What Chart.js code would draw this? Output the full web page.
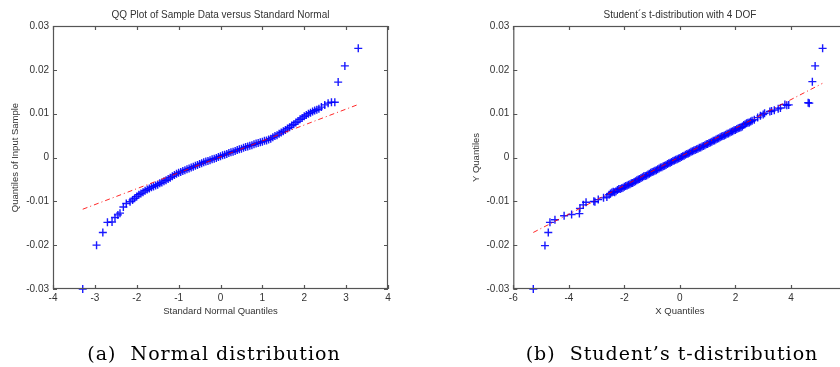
<!DOCTYPE html>
<html>
<head>
<meta charset="utf-8">
<script src="https://cdn.jsdelivr.net/npm/chart.js@4"></script>
<style>
html, body { margin: 0; padding: 0; width: 840px; height: 367px; overflow: hidden; background: #fff; }
#left { position: absolute; left: 0; top: 0; }
#right { position: absolute; left: 420px; top: 0; }
.caption { position: absolute; top: 340px; width: 420px; text-align: center; font-family: "DejaVu Serif", serif; font-size: 19px; letter-spacing: 1px; line-height: 26px; color: #000; white-space: nowrap; }
</style>
</head>
<body>
<canvas id="left" width="420" height="367"></canvas>
<canvas id="right" width="440" height="367"></canvas>
<div class="caption" style="left:4px">(a)&nbsp; Normal distribution</div>
<div class="caption" style="left:462px">(b)&nbsp; Student’s t-distribution</div>
<script>
// tick labels
const yTicks = [-0.03, -0.02, -0.01, 0, 0.01, 0.02, 0.03];
const normXTicks = [-4, -3, -2, -1, 0, 1, 2, 3, 4];
const tXTicks = [-6, -4, -2, 0, 2, 4, 6];

// (a) sample quantiles vs standard normal quantiles
const normX = [
  -3.29, -2.96, -2.81, -2.70, -2.59, -2.52, -2.45, -2.40, -2.32, -2.25, -2.16, -2.10,
  -2.05, -2.00, -1.95, -1.90, -1.85, -1.80, -1.75, -1.70, -1.65, -1.60, -1.55, -1.50,
  -1.45, -1.40, -1.35, -1.30, -1.25, -1.20, -1.15, -1.10, -1.05, -1.00, -0.95, -0.90,
  -0.85, -0.80, -0.75, -0.70, -0.65, -0.60, -0.55, -0.50, -0.45, -0.40, -0.35, -0.30,
  -0.25, -0.20, -0.15, -0.10, -0.05, 0.00, 0.05, 0.10, 0.15, 0.20, 0.25, 0.30,
  0.35, 0.40, 0.45, 0.50, 0.55, 0.60, 0.65, 0.70, 0.75, 0.80, 0.85, 0.90,
  0.95, 1.00, 1.05, 1.10, 1.15, 1.20, 1.25, 1.30, 1.35, 1.40, 1.45, 1.50,
  1.55, 1.60, 1.65, 1.70, 1.75, 1.80, 1.85, 1.90, 1.95, 2.00, 2.05, 2.10,
  2.15, 2.20, 2.25, 2.30, 2.35, 2.41, 2.49, 2.57, 2.65, 2.73, 2.81, 2.97, 3.29
];
const normY = [
  -0.0300, -0.0200, -0.0171, -0.0148, -0.0147, -0.0137, -0.0131, -0.0127, -0.0113, -0.0105, -0.0101, -0.0097,
  -0.0093, -0.0089, -0.0085, -0.0082, -0.0079, -0.0076, -0.0073, -0.0071, -0.0068, -0.0066, -0.0064, -0.0062,
  -0.0059, -0.0057, -0.0054, -0.0052, -0.0049, -0.0046, -0.0043, -0.0040, -0.0037, -0.0035, -0.0033, -0.0031,
  -0.0029, -0.0027, -0.0025, -0.0023, -0.0021, -0.0019, -0.0017, -0.0015, -0.0013, -0.0011, -0.0009, -0.0008,
  -0.0006, -0.0004, -0.0003, -0.0001, 0.0001, 0.0003, 0.0005, 0.0006, 0.0008, 0.0010, 0.0012, 0.0013,
  0.0015, 0.0017, 0.0019, 0.0020, 0.0022, 0.0024, 0.0025, 0.0027, 0.0028, 0.0030, 0.0032, 0.0033,
  0.0035, 0.0036, 0.0038, 0.0039, 0.0041, 0.0043, 0.0046, 0.0049, 0.0051, 0.0054, 0.0057, 0.0060,
  0.0063, 0.0066, 0.0069, 0.0073, 0.0076, 0.0080, 0.0083, 0.0087, 0.0090, 0.0094, 0.0097, 0.0100,
  0.0102, 0.0105, 0.0107, 0.0109, 0.0111, 0.0115, 0.0120, 0.0124, 0.0126, 0.0126, 0.0172, 0.0209, 0.0249
];
const normFitX = [-3.29, 3.29];
const normFitY = [-0.0118, 0.0121];

// (b) Y quantiles vs X quantiles, t-distribution with 4 DOF
const tX = [
  -5.28, -4.86, -4.74, -4.68, -4.50, -4.17, -3.90, -3.62, -3.60, -3.48, -3.38, -3.10,
  -3.06, -2.94, -2.75, -2.63,
  -2.55, -2.50, -2.45, -2.40, -2.35, -2.30, -2.25, -2.20, -2.15, -2.10, -2.05, -2.00,
  -1.95, -1.90, -1.85, -1.80, -1.75, -1.70, -1.65, -1.60, -1.55, -1.50, -1.45, -1.40,
  -1.35, -1.30, -1.25, -1.20, -1.15, -1.10, -1.05, -1.00, -0.95, -0.90, -0.85, -0.80,
  -0.75, -0.70, -0.65, -0.60, -0.55, -0.50, -0.45, -0.40, -0.35, -0.30, -0.25, -0.20,
  -0.15, -0.10, -0.05, 0.00, 0.05, 0.10, 0.15, 0.20, 0.25, 0.30, 0.35, 0.40,
  0.45, 0.50, 0.55, 0.60, 0.65, 0.70, 0.75, 0.80, 0.85, 0.90, 0.95, 1.00,
  1.05, 1.10, 1.15, 1.20, 1.25, 1.30, 1.35, 1.40, 1.45, 1.50, 1.55, 1.60,
  1.65, 1.70, 1.75, 1.80, 1.85, 1.90, 1.95, 2.00, 2.05, 2.10, 2.15, 2.20,
  2.25, 2.30, 2.35, 2.40, 2.45, 2.50, 2.55, 2.60,
  2.68, 2.80, 2.90, 3.00, 3.05, 3.24, 3.30, 3.40, 3.54, 3.62, 3.78, 3.85, 3.92,
  4.62, 4.66, 4.77, 4.87, 5.14
];
const tY = [
  -0.0300, -0.0201, -0.0171, -0.0148, -0.0142, -0.0133, -0.0130, -0.0128, -0.0116, -0.0108, -0.0102, -0.0100,
  -0.0101, -0.0096, -0.0092, -0.0090,
  -0.0085, -0.0082, -0.0080, -0.0078, -0.0079, -0.0077, -0.0074, -0.0072, -0.0072, -0.0070, -0.0069, -0.0067,
  -0.0065, -0.0064, -0.0062, -0.0061, -0.0059, -0.0058, -0.0056, -0.0054, -0.0052, -0.0050, -0.0049, -0.0047,
  -0.0045, -0.0043, -0.0042, -0.0041, -0.0039, -0.0037, -0.0035, -0.0033, -0.0032, -0.0030, -0.0029, -0.0027,
  -0.0025, -0.0023, -0.0022, -0.0020, -0.0019, -0.0017, -0.0015, -0.0013, -0.0012, -0.0010, -0.0008, -0.0007,
  -0.0005, -0.0004, -0.0002, -0.0001, 0.0001, 0.0003, 0.0004, 0.0006, 0.0008, 0.0009, 0.0011, 0.0013,
  0.0014, 0.0016, 0.0017, 0.0019, 0.0020, 0.0022, 0.0023, 0.0025, 0.0026, 0.0028, 0.0030, 0.0031,
  0.0033, 0.0034, 0.0036, 0.0038, 0.0039, 0.0041, 0.0043, 0.0044, 0.0046, 0.0048, 0.0049, 0.0050,
  0.0052, 0.0054, 0.0055, 0.0057, 0.0059, 0.0060, 0.0062, 0.0063, 0.0065, 0.0067, 0.0068, 0.0069,
  0.0071, 0.0074, 0.0076, 0.0078, 0.0079, 0.0080, 0.0082, 0.0084,
  0.0086, 0.0091, 0.0095, 0.0098, 0.0101, 0.0105, 0.0106, 0.0108, 0.0111, 0.0113, 0.0121, 0.0119, 0.0120,
  0.0125, 0.0124, 0.0173, 0.0209, 0.0249
];
const tFitX = [-5.28, 5.13];
const tFitY = [-0.0171, 0.0169];

const FONT = '"Liberation Sans", Arial, sans-serif';
const TEXT = '#333';

function pairs(xs, ys) {
  return xs.map((x, i) => ({ x: x, y: ys[i] }));
}

// matlab style box with inward ticks on all four sides
const boxPlugin = {
  id: 'box',
  afterDatasetsDraw(chart) {
    const { ctx, chartArea: a, scales } = chart;
    ctx.save();
    ctx.strokeStyle = '#555';
    ctx.lineWidth = 1.2;
    ctx.strokeRect(a.left + 0.5, a.top + 0.5, a.right - a.left - 1, a.bottom - a.top - 1);
    ctx.beginPath();
    scales.x.ticks.forEach(t => {
      const px = Math.round(scales.x.getPixelForValue(t.value)) + 0.5;
      ctx.moveTo(px, a.bottom); ctx.lineTo(px, a.bottom - 4);
      ctx.moveTo(px, a.top); ctx.lineTo(px, a.top + 4);
    });
    scales.y.ticks.forEach(t => {
      const py = Math.round(scales.y.getPixelForValue(t.value)) + 0.5;
      ctx.moveTo(a.left, py); ctx.lineTo(a.left + 4, py);
      ctx.moveTo(a.right, py); ctx.lineTo(a.right - 4, py);
    });
    ctx.stroke();
    ctx.restore();
  }
};

function qqChart(id, o) {
  return new Chart(document.getElementById(id), {
    type: 'scatter',
    data: {
      datasets: [
        {
          type: 'line',
          data: pairs(o.fitX, o.fitY),
          borderColor: 'rgba(255,0,0,0.85)',
          borderWidth: 1,
          borderDash: [5, 3, 1, 3],
          pointRadius: 0,
          order: 0
        },
        {
          data: pairs(o.x, o.y),
          pointStyle: 'cross',
          pointRadius: 4,
          borderColor: 'rgba(0,0,255,0.9)',
          borderWidth: 1.4,
          clip: false,
          order: 1
        }
      ]
    },
    options: {
      responsive: false,
      animation: false,
      layout: { padding: { left: 0, top: 0, right: o.padRight, bottom: 43 } },
      plugins: { legend: { display: false }, tooltip: { enabled: false } },
      scales: {
        x: {
          type: 'linear', position: 'bottom', min: o.xTicks[0], max: o.xTicks[o.xTicks.length - 1],
          grid: { display: false, drawTicks: false }, border: { display: false },
          afterBuildTicks: s => { s.ticks = o.xTicks.map(v => ({ value: v })); },
          afterFit: s => { s.height = 35; },
          ticks: { padding: 3, color: TEXT, font: { family: FONT, size: 10 }, callback: v => String(v) },
          title: { display: true, text: o.xTitle, color: TEXT, font: { family: FONT, size: 9.5 }, padding: { top: 0, bottom: 6.6 } }
        },
        top: {
          type: 'linear', axis: 'x', position: 'top', min: o.xTicks[0], max: o.xTicks[o.xTicks.length - 1],
          grid: { display: false, drawTicks: false }, border: { display: false },
          ticks: { display: false },
          afterFit: s => { s.height = 26; },
          title: { display: true, text: o.title, color: TEXT, font: { family: FONT, size: 10 }, padding: { top: 9.5, bottom: 0 } }
        },
        y: {
          type: 'linear', min: -0.03, max: 0.03,
          grid: { display: false, drawTicks: false }, border: { display: false },
          afterBuildTicks: s => { s.ticks = yTicks.map(v => ({ value: v })); },
          afterFit: s => { s.width = o.yWidth; },
          ticks: { padding: 4, color: TEXT, font: { family: FONT, size: 10 }, callback: v => (v === 0 ? '0' : v.toFixed(2)) },
          title: { display: true, text: o.yTitle, color: TEXT, font: { family: FONT, size: 9.5 }, padding: { top: o.yTitlePad, bottom: 0 } }
        }
      }
    },
    plugins: [boxPlugin]
  });
}

qqChart('left', {
  x: normX, y: normY, fitX: normFitX, fitY: normFitY, xTicks: normXTicks,
  title: 'QQ Plot of Sample Data versus Standard Normal',
  xTitle: 'Standard Normal Quantiles', yTitle: 'Quantiles of Input Sample',
  yWidth: 53, yTitlePad: 9.3, padRight: 32
});

qqChart('right', {
  x: tX, y: tY, fitX: tFitX, fitY: tFitY, xTicks: tXTicks,
  title: 'Student´s t-distribution with 4 DOF',
  xTitle: 'X Quantiles', yTitle: 'Y Quantiles',
  yWidth: 93.3, yTitlePad: 51, padRight: 13.5
});
</script>
</body>
</html>
